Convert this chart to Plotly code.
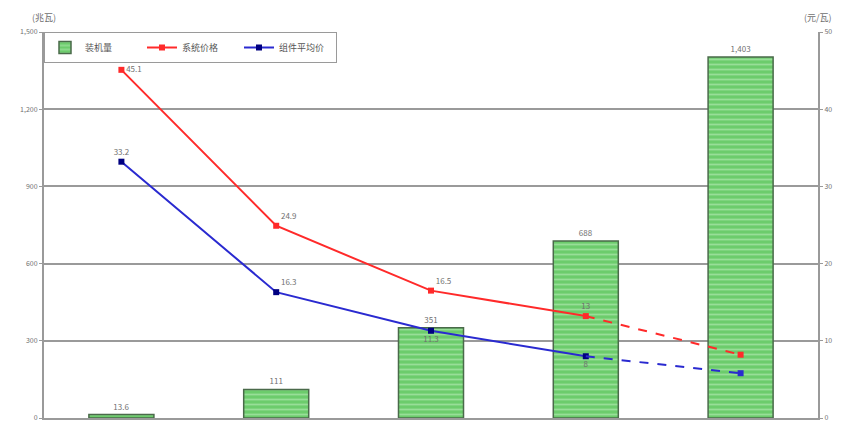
import plotly.graph_objects as go

categories = ["2007", "2008", "2009", "2010", "2011"]
capacity = [13.6, 111, 351, 688, 1403]
capacity_labels = ["13.6", "111", "351", "688", "1,403"]
system_price = [45.1, 24.9, 16.5, 13.2, 8.2]
system_labels = ["45.1", "24.9", "16.5", "13", ""]
module_price = [33.2, 16.3, 11.3, 8.0, 5.8]
module_labels = ["33.2", "16.3", "11.3", "8", ""]

RED = "#ff2a2a"
BLUE = "#2a2ad0"
GRAY = "#9a9a9a"
TXT = "#707070"
FONT = "Noto Sans CJK SC"

fig = go.Figure()

fig.add_trace(go.Bar(
    x=categories, y=capacity, name="装机量",
    width=0.42,
    marker=dict(color="#7bd67b", line=dict(color="#4a6a4a", width=1.5),
                pattern=dict(shape="-", fgcolor="#c4f0c4", bgcolor="#6ccc6c",
                             size=5, solidity=0.35)),
    text=capacity_labels, textposition="outside",
    textfont=dict(size=8, color=TXT, family=FONT),
    cliponaxis=False,
))

fig.add_trace(go.Scatter(
    x=categories[:4], y=system_price[:4], name="系统价格", yaxis="y2",
    mode="lines+markers+text", line=dict(color=RED, width=2),
    marker=dict(symbol="square", size=6, color=RED),
    text=system_labels[:4], textposition=["middle right", "top right", "top right", "top center"],
    textfont=dict(size=8, color=TXT, family=FONT),
))
fig.add_trace(go.Scatter(
    x=categories[3:], y=system_price[3:], yaxis="y2", showlegend=False,
    mode="lines+markers", line=dict(color=RED, width=2, dash="dash"),
    marker=dict(symbol="square", size=6, color=RED, opacity=[0, 1]),
))

fig.add_trace(go.Scatter(
    x=categories[:4], y=module_price[:4], name="组件平均价", yaxis="y2",
    mode="lines+markers+text", line=dict(color=BLUE, width=2),
    marker=dict(symbol="square", size=6, color="#000080"),
    text=module_labels[:4], textposition=["top center", "top right", "bottom center", "bottom center"],
    textfont=dict(size=8, color=TXT, family=FONT),
))
fig.add_trace(go.Scatter(
    x=categories[3:], y=module_price[3:], yaxis="y2", showlegend=False,
    mode="lines+markers", line=dict(color=BLUE, width=2, dash="dash"),
    marker=dict(symbol="square", size=6, color=BLUE, opacity=[0, 1]),
))

fig.update_layout(
    width=844, height=429,
    margin=dict(l=32, r=34, t=24, b=19),
    paper_bgcolor="white", plot_bgcolor="white",
    font=dict(family=FONT, size=8, color=TXT),
    showlegend=True,
    legend=dict(orientation="h", x=0.0, y=1.0, xanchor="left", yanchor="top",
                bgcolor="white", bordercolor=GRAY, borderwidth=1,
                font=dict(size=9, color="#555555", family=FONT),
                entrywidth=52, entrywidthmode="pixels",
                tracegroupgap=0),
    xaxis=dict(showticklabels=False, ticks="", showgrid=False,
               showline=True, linecolor=GRAY, linewidth=2),
    yaxis=dict(range=[0, 1500], dtick=300, tickformat=",", showgrid=True,
               gridcolor=GRAY, gridwidth=1.5, showline=True, linecolor=GRAY,
               linewidth=2, ticks="outside", ticklen=3, tickcolor=GRAY,
               tickfont=dict(size=7, color=TXT), zeroline=False),
    yaxis2=dict(range=[0, 50], dtick=10, overlaying="y", side="right",
                showgrid=False, showline=True, linecolor=GRAY, linewidth=2,
                ticks="outside", ticklen=3, tickcolor=GRAY,
                tickfont=dict(size=7, color=TXT), zeroline=False),
    bargap=0.58,
    annotations=[
        dict(text="(兆瓦)", x=0, y=1, xref="paper", yref="paper", xanchor="right",
             yanchor="bottom", xshift=14, yshift=6, showarrow=False,
             font=dict(size=9, color=TXT, family=FONT)),
        dict(text="(元/瓦)", x=1, y=1, xref="paper", yref="paper", xanchor="center",
             yanchor="bottom", yshift=6, showarrow=False,
             font=dict(size=9, color=TXT, family=FONT)),
    ],
)

fig.write_html("out.html")
